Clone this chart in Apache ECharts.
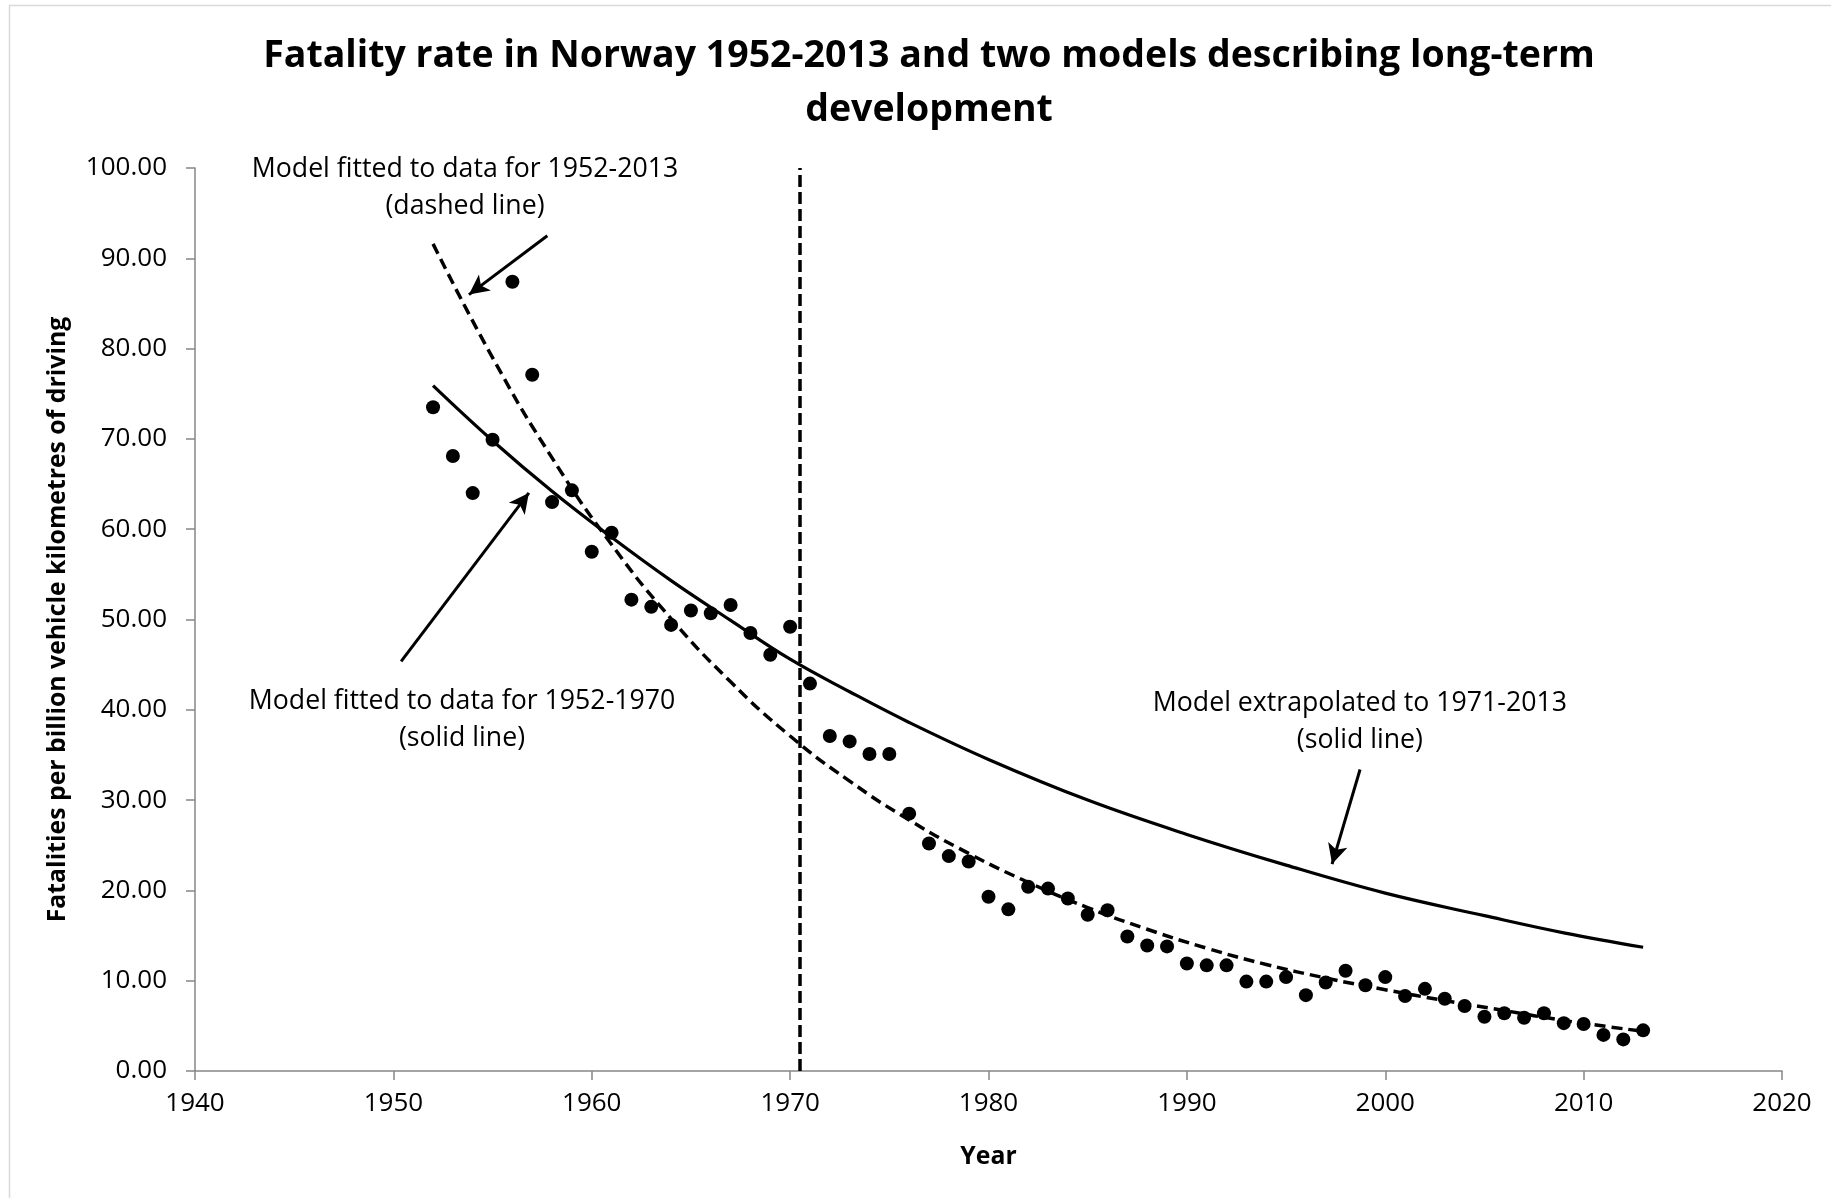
<!DOCTYPE html>
<html><head><meta charset="utf-8">
<script src="https://cdn.jsdelivr.net/npm/echarts/dist/echarts.min.js"></script>
<style>html,body{margin:0;padding:0;background:#fff}#c{width:1831px;height:1198px}</style>
</head><body><div id="c"></div>
<script>
// Observed fatality rate (fatalities per billion vehicle km), Norway
const years = [1952,1953,1954,1955,1956,1957,1958,1959,1960,1961,1962,1963,1964,1965,1966,1967,1968,1969,1970,
  1971,1972,1973,1974,1975,1976,1977,1978,1979,1980,1981,1982,1983,1984,1985,1986,1987,1988,1989,1990,
  1991,1992,1993,1994,1995,1996,1997,1998,1999,2000,2001,2002,2003,2004,2005,2006,2007,2008,2009,2010,2011,2012,2013];
const rates = [73.5,68.1,64.0,69.9,87.4,77.1,63.0,64.3,57.5,59.6,52.2,51.4,49.4,51.0,50.7,51.6,48.5,46.1,49.2,
  42.9,37.1,36.5,35.1,35.1,28.5,25.2,23.8,23.2,19.3,17.9,20.4,20.2,19.1,17.3,17.8,14.9,13.9,13.8,11.9,
  11.7,11.7,9.9,9.9,10.4,8.4,9.8,11.1,9.5,10.4,8.3,9.1,8.0,7.2,6.0,6.4,5.9,6.4,5.3,5.2,4.0,3.5,4.5];

// Model fitted to 1952-1970, extrapolated to 2013 (solid line)
const solidYears  = [1952,1955,1958,1961,1964,1967,1970,1973,1976,1980,1985,1990,1995,2000,2005,2009,2013];
const solidValues = [75.9,69.8,64.2,59.1,54.3,49.9,45.6,42.0,38.6,34.5,30.0,26.2,22.8,19.7,17.2,15.3,13.7];

// Model fitted to 1952-2013 (dashed line)
const dashedYears  = [1952,1955,1958,1961,1964,1967,1970,1973,1976,1979,1982,1985,1988,1991,1994,1997,2000,2003,2006,2009,2013];
const dashedValues = [91.6,79.0,67.9,58.3,50.1,43.1,37.1,32.1,27.8,24.1,20.9,18.1,15.7,13.6,11.8,10.3,9.0,7.8,6.7,5.6,4.4];

// Break year between fit period and extrapolation
const breakYear = 1970.46;

// Annotation texts (anchor in data coordinates)
const notes = [
  {text: 'Model fitted to data for 1952-2013\n(dashed line)', at: [1953.61, 97.8]},
  {text: 'Model fitted to data for 1952-1970\n(solid line)', at: [1953.46, 38.87]},
  {text: 'Model extrapolated to 1971-2013\n(solid line)', at: [1998.72, 38.65]}
];
// Arrows (from -> to) in data coordinates
const arrows = [
  [[1957.76, 92.50], [1953.81, 85.98]],
  [[1950.39, 45.36], [1956.83, 64.02]],
  [[1998.73, 33.39], [1997.32, 22.91]]
];

const xTicks = {min: 1940, max: 2020, interval: 10};
const yTicks = {min: 0, max: 100, interval: 10};

const FONT = '"Open Sans", "Liberation Sans", sans-serif';
const chart = echarts.init(document.getElementById('c'), null, {renderer: 'canvas'});

const axisCommon = {
  axisLine: {show: true, lineStyle: {color: '#868686', width: 1.5}},
  axisTick: {show: true, inside: false, length: 9, lineStyle: {color: '#868686', width: 1.5}},
  splitLine: {show: false},
  nameTextStyle: {fontFamily: FONT, fontWeight: 'bold', fontSize: 24.8, color: '#000'}
};

chart.setOption({
  animation: false,
  backgroundColor: '#fff',
  title: {
    text: 'Fatality rate in Norway 1952-2013 and two models describing long-term\ndevelopment',
    left: 924, top: 24, textAlign: 'center',
    textStyle: {fontFamily: FONT, fontWeight: 'bold', fontSize: 37.5, lineHeight: 54, color: '#000'}
  },
  graphic: [{
    type: 'rect', silent: true,
    shape: {x: 9.5, y: 5.5, width: 1900, height: 1300},
    style: {fill: 'none', stroke: '#d9d9d9', lineWidth: 1.5}
  }],
  grid: {left: 195, right: 49, top: 168, bottom: 127, containLabel: false},
  xAxis: Object.assign({}, axisCommon, {
    type: 'value', min: xTicks.min, max: xTicks.max, interval: xTicks.interval,
    name: 'Year', nameLocation: 'middle', nameGap: 73,
    axisLabel: {fontFamily: FONT, fontSize: 26, color: '#000', margin: 20, formatter: v => String(v)}
  }),
  yAxis: Object.assign({}, axisCommon, {
    type: 'value', min: yTicks.min, max: yTicks.max, interval: yTicks.interval,
    name: 'Fatalities per billion vehicle kilometres of driving', nameLocation: 'middle', nameGap: 125,
    axisLabel: {fontFamily: FONT, fontSize: 26, color: '#000', margin: 28, formatter: v => v.toFixed(2)}
  }),
  series: [
    {
      name: 'Solid model', type: 'line', smooth: 0.4, showSymbol: false, symbol: 'none',
      data: solidYears.map((y, i) => [y, solidValues[i]]),
      lineStyle: {color: '#000', width: 3.2, type: 'solid'}, z: 3
    },
    {
      name: 'Dashed model', type: 'line', smooth: 0.5, showSymbol: false, symbol: 'none',
      data: dashedYears.map((y, i) => [y, dashedValues[i]]),
      lineStyle: {color: '#000', width: 3.5, type: [11, 6]}, z: 3
    },
    {
      name: 'Fatality rate', type: 'scatter', symbol: 'circle', symbolSize: 14,
      data: years.map((y, i) => [y, rates[i]]),
      itemStyle: {color: '#000', opacity: 1}, z: 5,
      markLine: {
        silent: true, animation: false,
        label: {show: false},
        data: [
          [{coord: [breakYear, yTicks.min], symbol: 'none', lineStyle: {type: [12, 5], width: 3.5, color: '#000', opacity: 1}},
           {coord: [breakYear, yTicks.max], symbol: 'none'}]
        ].concat(arrows.map(a => [
          {coord: a[0], symbol: 'none', lineStyle: {type: 'solid', width: 3, color: '#000', opacity: 1}},
          {coord: a[1], symbol: 'arrow', symbolSize: [15, 20]}
        ]))
      }
    },
    {
      name: 'Notes', type: 'scatter', symbolSize: 0, silent: true, clip: false,
      data: notes.map(n => ({value: n.at, label: {formatter: n.text}})),
      itemStyle: {opacity: 1},
      label: {show: true, position: 'inside', fontFamily: FONT, fontSize: 26.7, lineHeight: 37, color: '#000', opacity: 1, align: 'center', verticalAlign: 'middle'},
      z: 6
    }
  ]
});
</script></body></html>
